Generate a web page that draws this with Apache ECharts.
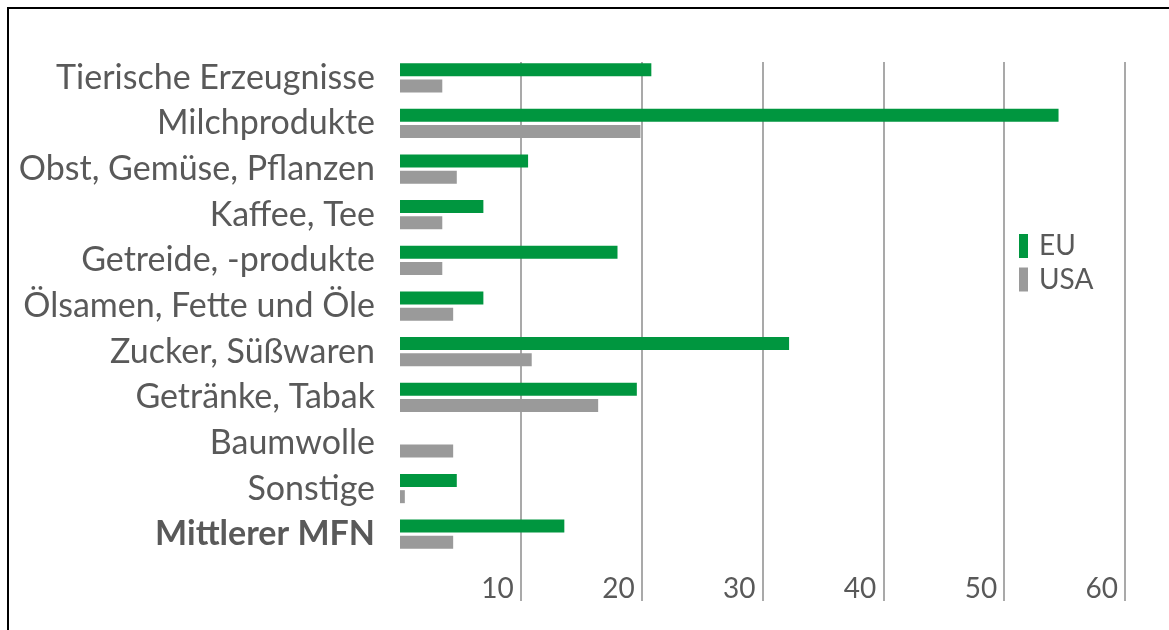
<!DOCTYPE html>
<html>
<head>
<meta charset="utf-8">
<script src="https://cdn.jsdelivr.net/npm/echarts@6/dist/echarts.min.js"></script>
<style>
  html, body { margin: 0; padding: 0; background: #fff; }
  #chart { width: 1169px; height: 630px; }
</style>
</head>
<body>
<div id="chart"></div>
<script>
// Zollsätze nach Produktgruppe (Prozent)
const categories = [
  'Tierische Erzeugnisse',
  'Milchprodukte',
  'Obst, Gemüse, Pflanzen',
  'Kaffee, Tee',
  'Getreide, -produkte',
  'Ölsamen, Fette und Öle',
  'Zucker, Süßwaren',
  'Getränke, Tabak',
  'Baumwolle',
  'Sonstige',
  'Mittlerer MFN'
]
const euValues = [20.8, 54.5, 10.6, 6.9, 18.0, 6.9, 32.2, 19.6, 0, 4.7, 13.6]
const usaValues = [3.5, 19.9, 4.7, 3.5, 3.5, 4.4, 10.9, 16.4, 4.4, 0.4, 4.4]
const seriesNames = ['EU', 'USA']
const xTicks = [10, 20, 30, 40, 50, 60]

const fontFamily = 'Lato, "Open Sans", sans-serif'
const textColor = '#595959'
const colors = ['#00963f', '#9a9a9a']

const chart = echarts.init(document.getElementById('chart'))
window.onresize = () => chart.resize()

const option = {
  animation: false,
  textStyle: { fontFamily: fontFamily },
  graphic: [
    {
      type: 'rect',
      shape: { x: 8, y: 8, width: 1200, height: 700 },
      style: { fill: 'none', stroke: '#000', lineWidth: 2 },
      z: 100
    }
  ],
  legend: {
    orient: 'vertical',
    left: 1019,
    top: 232,
    padding: 0,
    itemWidth: 9,
    itemHeight: 24,
    itemGap: 5.5,
    icon: 'rect',
    data: seriesNames,
    textStyle: { fontSize: 28, color: textColor, fontFamily: fontFamily, padding: [0, 0, 0, 6] }
  },
  grid: [
    // bars
    { left: 400, right: 44, top: 55, height: 502, containLabel: false },
    // gridlines + tick labels
    { left: 400, right: 44, top: 62, bottom: 29, containLabel: false }
  ],
  xAxis: [
    {
      gridIndex: 0,
      type: 'value',
      min: 0,
      max: 60,
      interval: 10,
      show: false
    },
    {
      gridIndex: 1,
      type: 'value',
      min: 0,
      max: 60,
      interval: 10,
      axisLine: { show: false },
      axisTick: { show: false },
      splitLine: { show: true, showMinLine: false, lineStyle: { color: '#8c8c8c', width: 1.5 } },
      axisLabel: {
        inside: true,
        showMinLabel: false,
        margin: 12,
        align: 'right',
        verticalAlign: 'middle',
        padding: [0, 7, 0, 0],
        fontSize: 28,
        color: textColor,
        fontFamily: fontFamily,
        formatter: v => (xTicks.indexOf(v) >= 0 ? String(v) : '')
      }
    }
  ],
  yAxis: [
    {
      gridIndex: 0,
      type: 'category',
      inverse: true,
      data: categories,
      axisLine: { show: false },
      axisTick: { show: false },
      splitLine: { show: false },
      axisLabel: {
        margin: 25,
        fontSize: 34,
        color: textColor,
        fontFamily: fontFamily,
        formatter: (v, i) => (v === 'Mittlerer MFN' ? '{b|' + v + '}' : v),
        rich: {
          b: { fontSize: 34, fontWeight: 'bold', color: textColor, fontFamily: fontFamily }
        }
      }
    },
    {
      gridIndex: 1,
      type: 'value',
      show: false
    }
  ],
  series: [
    {
      name: seriesNames[0],
      type: 'bar',
      xAxisIndex: 0,
      yAxisIndex: 0,
      barWidth: 13,
      barGap: '25%',
      itemStyle: { color: colors[0] },
      data: euValues
    },
    {
      name: seriesNames[1],
      type: 'bar',
      xAxisIndex: 0,
      yAxisIndex: 0,
      barWidth: 13,
      barGap: '25%',
      itemStyle: { color: colors[1] },
      data: usaValues
    }
  ]
}
chart.setOption(option)
</script>
</body>
</html>
